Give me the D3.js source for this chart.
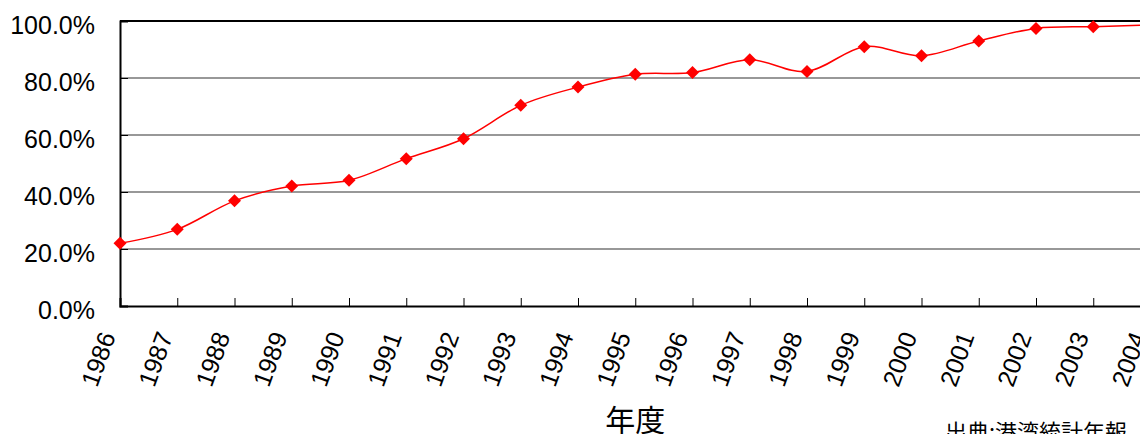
<!DOCTYPE html>
<html>
<head>
<meta charset="utf-8">
<script src="https://cdn.jsdelivr.net/npm/d3@7"></script>
<style>
  body { margin: 0; background: #fff; }
  svg { display: block; }
</style>
</head>
<body>
<svg id="chart"></svg>
<script>
// data (share, %)
var years = [1986,1987,1988,1989,1990,1991,1992,1993,1994,1995,1996,1997,1998,1999,2000,2001,2002,2003,2004];
var rates = [22.0,26.9,36.9,42.1,44.1,51.7,58.7,70.4,76.8,81.3,81.9,86.4,82.3,91.0,87.8,93.0,97.4,98.0,98.6];
var yTicks = [0,20,40,60,80,100];
var xTitle = "年度";
var source = "出典:港湾統計年報";

var W = 1140, H = 434;
var plotLeft = 120, plotTop = 21, plotBottom = 306;
var step = 57.25;

var svg = d3.select("#chart").attr("width", W).attr("height", H);

var x = d3.scaleLinear().domain([1986, 2004]).range([plotLeft, plotLeft + step*18]);
var y = d3.scaleLinear().domain([0, 100]).range([plotBottom, plotTop]);

// gridlines
svg.append("g").selectAll("line")
    .data(yTicks.filter(function(d){ return d > 0 && d < 100; }))
    .join("line")
    .attr("x1", plotLeft).attr("x2", W)
    .attr("y1", function(d){ return y(d); }).attr("y2", function(d){ return y(d); })
    .attr("stroke", "#333").attr("stroke-width", 1.2);

// top border
svg.append("line")
    .attr("x1", plotLeft).attr("x2", W)
    .attr("y1", y(100)).attr("y2", y(100))
    .attr("stroke", "#000").attr("stroke-width", 2);

// y axis
var yAxis = svg.append("g")
    .attr("transform", "translate(" + plotLeft + ",0)")
    .call(d3.axisLeft(y).tickValues(yTicks).tickSize(-8).tickPadding(25)
        .tickFormat(function(d){ return d.toFixed(1) + "%"; }));
yAxis.select(".domain").attr("stroke", "#000").attr("stroke-width", 2);
yAxis.selectAll(".tick line").attr("stroke", "#000");
yAxis.selectAll("text")
    .attr("font-family", "Liberation Sans, Arial, sans-serif")
    .attr("font-size", 25).attr("fill", "#000")
    .attr("dy", 12);

// x axis
var xAxis = svg.append("g")
    .attr("transform", "translate(0," + plotBottom + ")")
    .call(d3.axisBottom(x).tickValues(years).tickSize(-8).tickFormat(""));
xAxis.select(".domain").attr("stroke", "#000").attr("stroke-width", 2);
xAxis.selectAll(".tick line").attr("stroke", "#000");

svg.append("g").selectAll("text")
    .data(years)
    .join("text")
    .attr("transform", function(d){ return "translate(" + (x(d) - 4) + ",336) rotate(-70)"; })
    .attr("text-anchor", "end")
    .attr("font-family", "Liberation Sans, Arial, sans-serif")
    .attr("font-size", 25)
    .attr("fill", "#000")
    .text(function(d){ return d; });

// line
var pts = years.map(function(d, i){ return [d, rates[i]]; });
var line = d3.line()
    .x(function(d){ return x(d[0]); })
    .y(function(d){ return y(d[1]); })
    .curve(d3.curveCatmullRom.alpha(0));
svg.append("path")
    .datum(pts)
    .attr("d", line)
    .attr("fill", "none")
    .attr("stroke", "#ff0000")
    .attr("stroke-width", 1.5);

// markers
svg.append("g").selectAll("path")
    .data(pts)
    .join("path")
    .attr("transform", function(d){ return "translate(" + x(d[0]) + "," + y(d[1]) + ")"; })
    .attr("d", "M0,-6.5L6.5,0L0,6.5L-6.5,0Z")
    .attr("fill", "#ff0000");

// titles
svg.append("text")
    .attr("x", (plotLeft + x(2004)) / 2).attr("y", 431)
    .attr("text-anchor", "middle")
    .attr("font-family", "Noto Sans CJK JP, sans-serif")
    .attr("font-size", 30)
    .text(xTitle);

svg.append("text")
    .attr("x", 945).attr("y", 440)
    .attr("font-family", "Noto Sans CJK JP, sans-serif")
    .attr("font-size", 22)
    .text(source);
</script>
</body>
</html>
